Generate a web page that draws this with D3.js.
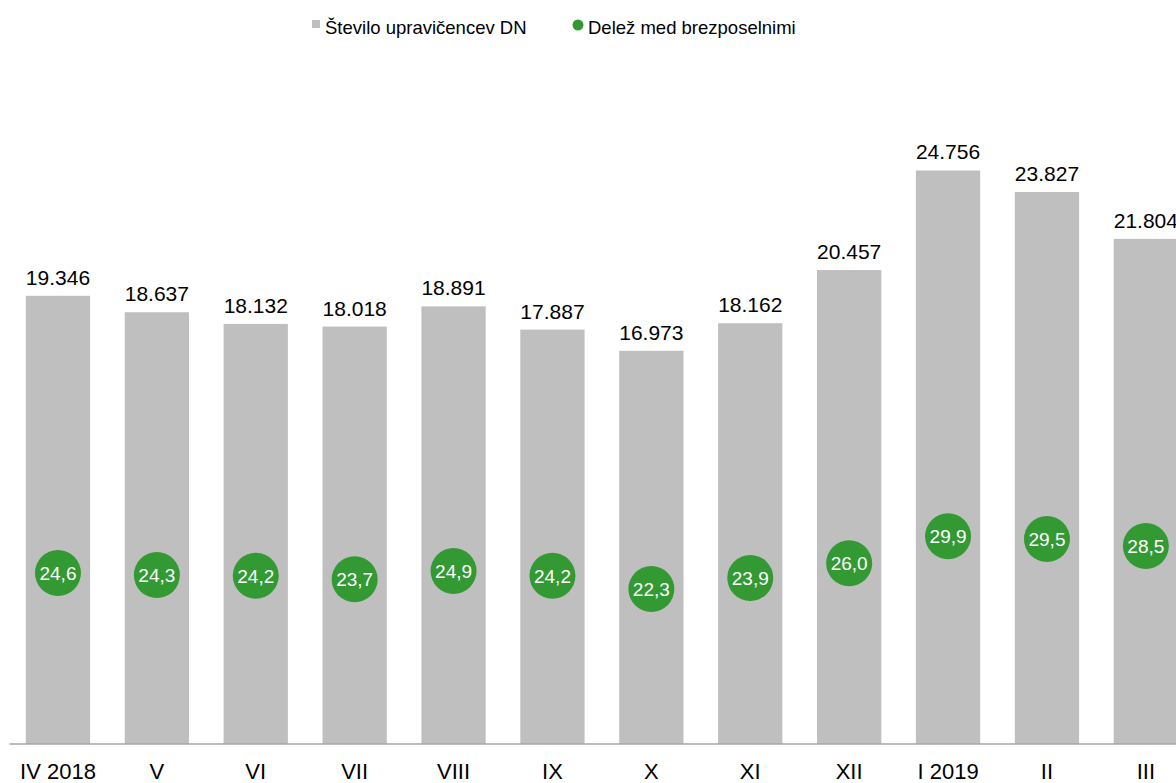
<!DOCTYPE html>
<html>
<head>
<meta charset="utf-8">
<script src="https://cdn.jsdelivr.net/npm/d3@7"></script>
<style>
  body { margin: 0; background: #fff; }
  svg { display: block; overflow: hidden; }
  text { font-family: "Liberation Sans", Arial, sans-serif; }
</style>
</head>
<body>
<div id="chart"></div>
<script>
// data
var months = ["IV 2018", "V", "VI", "VII", "VIII", "IX", "X", "XI", "XII", "I 2019", "II", "III"];
var recipients = [19346, 18637, 18132, 18018, 18891, 17887, 16973, 18162, 20457, 24756, 23827, 21804];
var shareUnemployed = [24.6, 24.3, 24.2, 23.7, 24.9, 24.2, 22.3, 23.9, 26.0, 29.9, 29.5, 28.5];
var legendLabels = ["Število upravičencev DN", "Delež med brezposelnimi"];

const width = 1176, height = 783;
const baseY = 744, topY = 49;

var locale = d3.formatLocale({decimal: ",", thousands: ".", grouping: [3], currency: ["", "€"]});
var fmtInt = locale.format(",d");
var fmtPct = locale.format(".1f");

var rows = months.map(function(m, i) {
    return {month: m, value: recipients[i], share: shareUnemployed[i]};
});

var svg = d3.select("#chart")
    .append("svg")
    .attr("width", width)
    .attr("height", height);

// band scale runs past the right edge, like the original (last bar is clipped)
var x = d3.scaleBand()
    .domain(months)
    .range([8.5, 8.5 + 12 * 98.9])
    .paddingInner(0.35)
    .paddingOuter(0.175);

var y = d3.scaleLinear().domain([0, 30000]).range([baseY, topY]);
var y2 = d3.scaleLinear().domain([0, 100]).range([baseY, topY]);

// bars
svg.selectAll(".bar")
    .data(rows)
    .enter().append("rect")
    .attr("class", "bar")
    .attr("x", function(d) { return x(d.month); })
    .attr("y", function(d) { return y(d.value); })
    .attr("width", x.bandwidth())
    .attr("height", function(d) { return baseY - y(d.value); })
    .style("fill", "#bfbfbf");

// bar value labels
svg.selectAll(".val")
    .data(rows)
    .enter().append("text")
    .attr("class", "val")
    .attr("x", function(d) { return x(d.month) + x.bandwidth() / 2; })
    .attr("y", function(d) { return y(d.value) - 11; })
    .attr("text-anchor", "middle")
    .style("font-size", "21px")
    .style("fill", "#000")
    .text(function(d) { return fmtInt(d.value); });

// x axis
var xAxis = svg.append("g")
    .attr("transform", "translate(0," + baseY + ")")
    .call(d3.axisBottom(x).tickSize(0).tickPadding(0));
xAxis.select(".domain")
    .attr("d", "M9.5,0H" + (width + 30))
    .style("stroke", "#a6a6a6")
    .style("stroke-width", 1.5);
xAxis.selectAll(".tick text")
    .attr("dy", null)
    .attr("y", 35)
    .style("font-family", "'Liberation Sans', Arial, sans-serif")
    .style("font-size", "22px")
    .style("fill", "#000");

// share markers
var dots = svg.selectAll(".dot")
    .data(rows)
    .enter().append("g")
    .attr("class", "dot")
    .attr("transform", function(d) {
        return "translate(" + (x(d.month) + x.bandwidth() / 2) + "," + y2(d.share) + ")";
    });
dots.append("circle")
    .attr("r", 23)
    .style("fill", "#339933");
dots.append("text")
    .attr("text-anchor", "middle")
    .attr("dy", "0.36em")
    .style("font-size", "19px")
    .style("fill", "#fff")
    .text(function(d) { return fmtPct(d.share); });

// legend
var legend = svg.append("g");
legend.append("rect")
    .attr("x", 312).attr("y", 20)
    .attr("width", 8).attr("height", 8)
    .style("fill", "#bfbfbf");
legend.append("text")
    .attr("x", 325).attr("y", 34)
    .style("font-size", "18.5px")
    .style("fill", "#000")
    .text(legendLabels[0]);
legend.append("circle")
    .attr("cx", 578).attr("cy", 25).attr("r", 5.5)
    .style("fill", "#339933");
legend.append("text")
    .attr("x", 588).attr("y", 34)
    .style("font-size", "18.5px")
    .style("fill", "#000")
    .text(legendLabels[1]);
</script>
</body>
</html>
